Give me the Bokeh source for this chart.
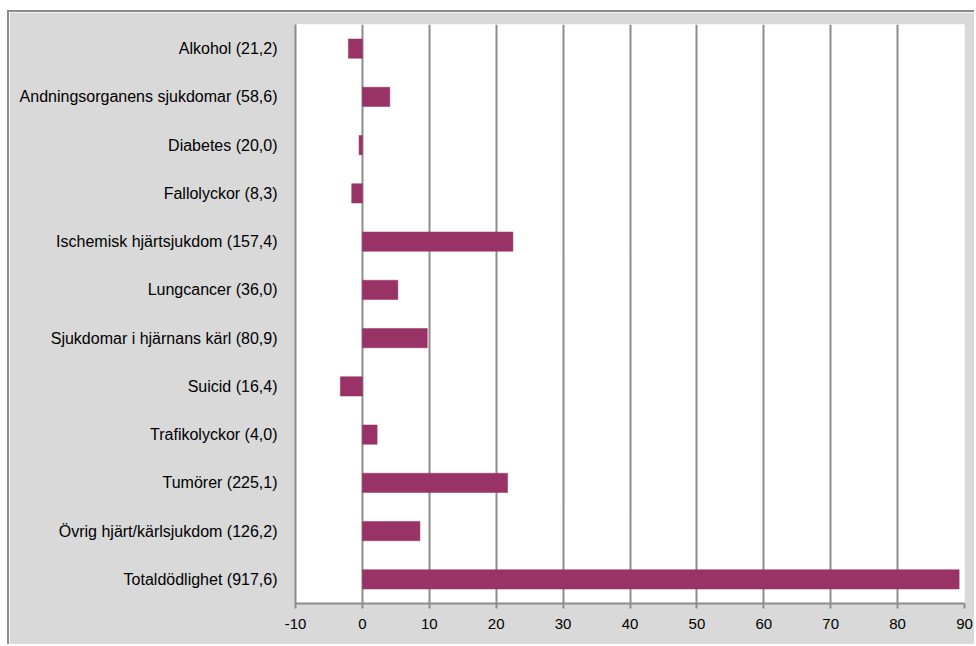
from bokeh.plotting import figure
from bokeh.models import ColumnDataSource, FactorRange, Range1d, FixedTicker
from bokeh.embed import file_html
from bokeh.resources import INLINE

categories = [
    "Alkohol (21,2)",
    "Andningsorganens sjukdomar (58,6)",
    "Diabetes (20,0)",
    "Fallolyckor (8,3)",
    "Ischemisk hjärtsjukdom (157,4)",
    "Lungcancer (36,0)",
    "Sjukdomar i hjärnans kärl (80,9)",
    "Suicid (16,4)",
    "Trafikolyckor (4,0)",
    "Tumörer (225,1)",
    "Övrig hjärt/kärlsjukdom (126,2)",
    "Totaldödlighet (917,6)",
]
values = [-2.1, 4.1, -0.5, -1.6, 22.5, 5.3, 9.7, -3.3, 2.2, 21.7, 8.6, 89.2]
x_ticks = [-10, 0, 10, 20, 30, 40, 50, 60, 70, 80, 90]

BAR = "#993366"
BG = "#d9d9d9"
GRID = "#8c8c8c"
FONT = "Liberation Sans"

source = ColumnDataSource(dict(cat=categories, val=values, zero=[0] * len(values)))

p = figure(
    width=967, height=634,
    y_range=FactorRange(*list(reversed(categories)), range_padding=0),
    x_range=Range1d(-10, 90),
    output_backend="svg", toolbar_location=None,
    min_border_left=286, min_border_right=12, min_border_top=12, min_border_bottom=43,
)
p.styles = {"margin-left": "7px", "margin-top": "10px",
            "border-top": "2px solid #8c8c8c", "border-left": "2px solid #8c8c8c"}
p.background_fill_color = "white"
p.border_fill_color = BG
p.outline_line_color = None

p.hbar(y="cat", left="zero", right="val", height=0.4, source=source,
       fill_color=BAR, line_color=BAR, line_width=0.5)

p.xaxis.ticker = FixedTicker(ticks=x_ticks)
p.xaxis.major_label_overrides = {t: str(t) for t in x_ticks}
p.xaxis.axis_line_color = GRID
p.xaxis.axis_line_width = 2
p.xaxis.major_tick_line_color = GRID
p.xaxis.major_tick_line_width = 2
p.xaxis.major_tick_out = 5
p.xaxis.major_tick_in = 0
p.xaxis.minor_tick_line_color = None
p.xaxis.major_label_text_font = FONT
p.xaxis.major_label_text_font_size = "15px"
p.xaxis.major_label_text_color = "black"
p.xaxis.major_label_standoff = 10

p.yaxis.axis_line_color = GRID
p.yaxis.axis_line_width = 2
p.yaxis.major_tick_line_color = None
p.yaxis.minor_tick_line_color = None
p.yaxis.major_label_text_font = FONT
p.yaxis.major_label_text_font_size = "16px"
p.yaxis.major_label_text_color = "black"
p.yaxis.major_label_standoff = 12

p.xgrid.grid_line_color = GRID
p.xgrid.grid_line_width = 2
p.ygrid.grid_line_color = None

open("out.html", "w").write(file_html(p, INLINE))
